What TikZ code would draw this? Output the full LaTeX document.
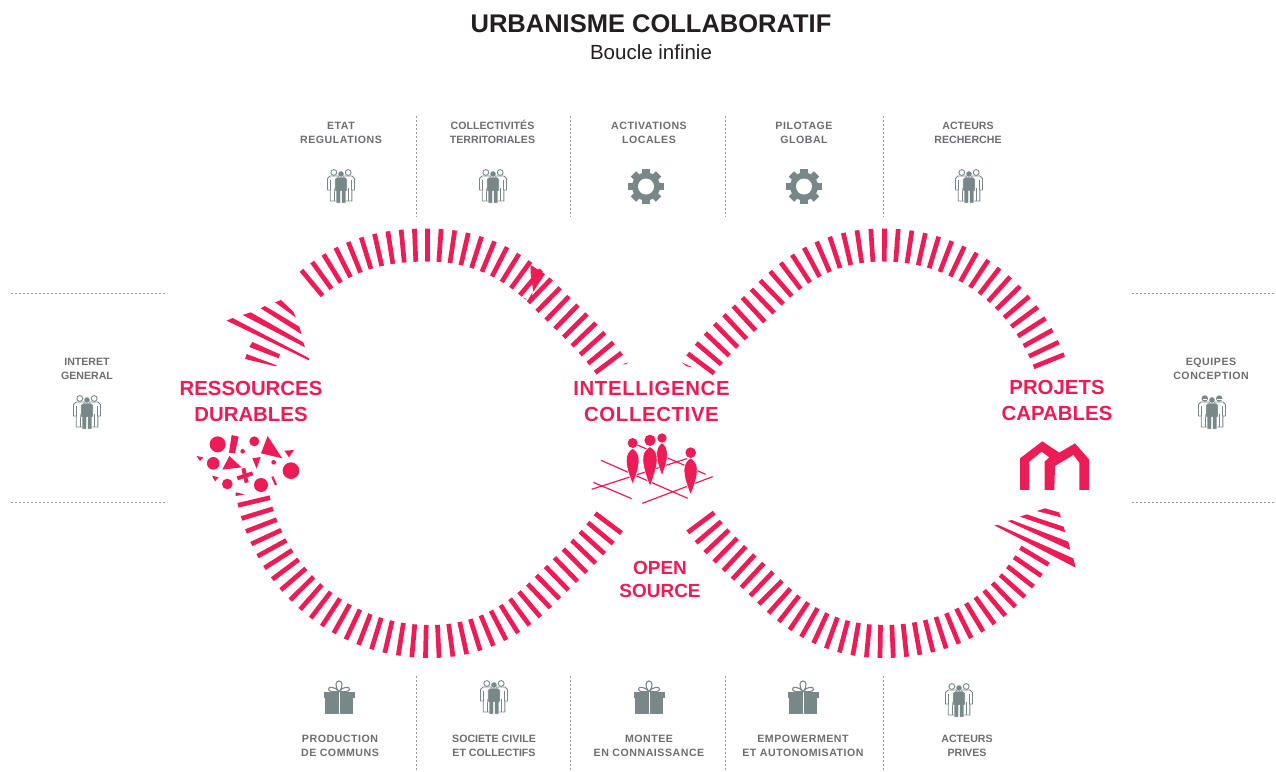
\documentclass[tikz,border=0pt]{standalone}
\usepackage{fontspec}
\setmainfont{Liberation Sans}
\usetikzlibrary{decorations.markings}
\definecolor{pinkc}{HTML}{EE1C56}
\definecolor{greyt}{HTML}{6D6E71}
\definecolor{icon}{HTML}{788888}
\definecolor{dotc}{HTML}{939C9C}
\definecolor{titlec}{HTML}{231F20}
\newcommand{\stripeband}[2]{%
  \pgfmathsetmacro{\stepfrac}{1/(#2+0.02)}%
  \path[decorate,decoration={markings,mark=between positions 0 and 1 step \stepfrac\space with {\draw[pinkc,line width=4.7pt] (0,-16.5) -- (0,16.5);}}] #1;%
}
\newcommand{\sidebodies}{%
  \foreach \s in {-1,1}{
    \draw[icon,fill=white,line width=0.9pt] (\s*13.5,4) -- (\s*13.5,-7.5) -- (\s*11,-10) -- (\s*3,-10) -- (\s*1,-7) -- (\s*1,4) -- (\s*3.5,4) -- (\s*3.5,15) -- (\s*10.8,15) -- (\s*10.8,4) -- cycle;
    \draw[icon,line width=0.7pt] (\s*7.1,2) -- (\s*7.1,15);
    \draw[icon,line width=0.7pt] (\s*10.8,-6) -- (\s*10.8,4);
  }%
}
\newcommand{\centerbody}{%
  \fill[icon,draw=white,line width=0.5pt] (-6.2,-7) -- (-4,-9) -- (4,-9) -- (6.2,-7) -- (6.2,5) -- (4.8,5) -- (4.8,17) -- (0.5,17) -- (0.5,5) -- (-0.5,5) -- (-0.5,17) -- (-4.8,17) -- (-4.8,5) -- (-6.2,5) -- cycle;
  \fill[icon] (0,-12) circle[radius=2.8];
}
\tikzset{
  small/.style={text=greyt,font=\fontsize{10.6}{14}\bfseries\selectfont,align=center,inner sep=0pt},
  smallwide/.style={text=greyt,font=\fontsize{10.6}{14}\bfseries\selectfont\addfontfeature{LetterSpace=5},align=center,inner sep=0pt},
  big/.style={text=pinkc,font=\fontsize{20.4}{26}\bfseries\selectfont,align=center,inner sep=0pt},
  bigwide/.style={text=pinkc,font=\fontsize{20.4}{26}\bfseries\selectfont\addfontfeature{LetterSpace=3},align=center,inner sep=0pt},
  oss/.style={text=pinkc,font=\fontsize{19}{23}\bfseries\selectfont,align=center,inner sep=0pt},
  dotline/.style={dotc,line width=0.7pt,dash pattern=on 2pt off 2pt},
  pk/.style={fill=pinkc,draw=none},
  gear/.pic={
    \fill[icon] (0,0) circle[radius=14];
    \foreach \a in {0,45,...,315}{\fill[icon,rotate=\a] (-3.8,-17.8) rectangle (3.8,0);}
    \fill[white] (0,0) circle[radius=8];
  },
  gift/.pic={
    \fill[icon] (-15.5,-10.7) rectangle (15.5,-5);
    \fill[icon] (-14,-5) rectangle (14,11);
    \fill[white] (-0.5,-10.7) rectangle (0.5,11);
    \draw[icon,line width=1.1pt] (0,-11.5) .. controls (-4,-16.5) and (-11,-17) .. (-10.5,-13.5) .. controls (-10,-11) and (-4,-11) .. (0,-11.5)
      .. controls (4,-16.5) and (11,-17) .. (10.5,-13.5) .. controls (10,-11) and (4,-11) .. (0,-11.5)
      .. controls (-5,-17) and (-3,-22) .. (0,-22) .. controls (3,-22) and (5,-17) .. (0,-11.5);
  },
  people/.pic={
    \sidebodies
    \draw[icon,fill=white,line width=0.9pt] (-7.2,-13.5) circle[radius=2.9];
    \draw[icon,fill=white,line width=0.9pt] (7.2,-13.5) circle[radius=2.9];
    \centerbody
  },
  peoplecap/.pic={
    \sidebodies
    \fill[icon] (-7.2,-13.5) circle[radius=3.2];
    \fill[icon] (7.2,-13.5) circle[radius=3.2];
    \fill[white] (-9.5,-13) rectangle (-5,-11.6);
    \fill[white] (5,-13) rectangle (9.5,-11.6);
    \centerbody
  },
}
\begin{document}
\begin{tikzpicture}[x=1pt,y=-1pt]
\useasboundingbox[fill=white] (0,0) rectangle (1276,771);

% title
\node[text=titlec,font=\fontsize{25.5}{30}\bfseries\selectfont,inner sep=0pt] (title) at (651,24) {URBANISME COLLABORATIF};
\node[text=titlec,font=\fontsize{20.5}{24}\selectfont,inner sep=0pt] (subtitle) at (651,52) {Boucle infinie};

% dotted separators
\foreach \x in {416.5,570.5,725.5,883.5}{
  \draw[dotline] (\x,116) -- (\x,217);
  \draw[dotline] (\x,676) -- (\x,770);
}
\foreach \y in {293.5,502.5}{
  \draw[dotline] (11,\y) -- (167,\y);
  \draw[dotline] (1132,\y) -- (1274,\y);
}

% small labels
\node[smallwide] (l1) at (341,133) {ETAT\\REGULATIONS};
\node[small] (l2) at (492.5,132) {COLLECTIVITÉS\\TERRITORIALES};
\node[smallwide] (l3) at (649,133) {ACTIVATIONS\\LOCALES};
\node[smallwide] (l4) at (804,133) {PILOTAGE\\GLOBAL};
\node[small] (l5) at (968,133) {ACTEURS\\RECHERCHE};
\node[smallwide] (l6) at (340,746) {PRODUCTION\\DE COMMUNS};
\node[small] (l7) at (494,746) {SOCIETE CIVILE\\ET COLLECTIFS};
\node[smallwide] (l8) at (649,746) {MONTEE\\EN CONNAISSANCE};
\node[smallwide] (l9) at (803,746) {EMPOWERMENT\\ET AUTONOMISATION};
\node[small] (l10) at (967,746) {ACTEURS\\PRIVES};
\node[small] (l11) at (87,369) {INTERET\\GENERAL};
\node[smallwide] (l12) at (1211,369) {EQUIPES\\CONCEPTION};

% icons
\pic at (341,186) {people};
\pic at (493,186) {people};
\pic at (646,186.5) {gear};
\pic at (804,186.5) {gear};
\pic at (969,186) {people};
\pic at (339,703) {gift};
\pic at (494,697) {people};
\pic at (649,703) {gift};
\pic at (803,703) {gift};
\pic at (959,700) {people};
\pic at (87,412) {people};
\pic at (1212,412) {peoplecap};

% striped bands
\stripeband{(312,283) .. controls (347,254) and (383,245) .. (428,245) .. controls (473,245) and (511,262) .. (543,294) .. controls (566,317) and (589,337) .. (608.5,363)}{28}
\stripeband{(254,501.5) .. controls (273.5,584) and (345,641.5) .. (430,641.5) .. controls (475,641.5) and (511,624) .. (543,592) .. controls (566,569) and (589,549) .. (608.5,523)}{37}
\stripeband{(701,363.5) .. controls (720,338) and (745,319) .. (770,294) .. controls (802,262) and (838,245) .. (883,245) .. controls (958,245) and (1021,291) .. (1049,361)}{35}
\stripeband{(701,522.5) .. controls (720,548) and (745,567) .. (770,592) .. controls (802,624) and (838,641.5) .. (883,641.5) .. controls (948,641.5) and (1001,612) .. (1034.5,556)}{33}

% blob and slivers on the top left band
\begin{scope}[shift={(500,250)},x=0.3333pt,y=-0.3333pt]
  \fill[pk] (92,45) -- (135,72) -- (100,125) -- (92,70) -- cycle;
  \fill[pk] (85,148) -- (97,128) -- (97,150) -- cycle;
  \fill[pk] (68,143) -- (80,147) -- (78,149) -- cycle;
  \fill[pk] (368,343) -- (384,337) -- (378,343) -- cycle;
  \fill[pk] (545,337) -- (577,352) -- (560,349) -- cycle;
\end{scope}

% left arrow head
\begin{scope}[shift={(220,285)},x=0.3333pt,y=-0.3333pt]
  \fill[pk] (165,52) -- (183,45) -- (220,80) -- (228,98) -- cycle;
  \fill[pk] (122,70) -- (135,63) -- (238,125) -- (245,148) -- cycle;
  \fill[pk] (68,90) -- (92,82) -- (250,172) -- (255,187) -- cycle;
  \fill[pk] (20,107) -- (38,99) -- (268,220) -- (266,226) -- cycle;
  \fill[pk] (97,171) -- (180,208) -- (176,220) -- (88,186) -- cycle;
  \fill[pk] (80,207) -- (170,241) -- (168,244) -- (75,222) -- cycle;
\end{scope}

% right arrow head
\begin{scope}[shift={(985,500)},x=0.3333pt,y=-0.3333pt]
  \fill[pk] (155,33) -- (180,25) -- (222,37) -- (228,52) -- cycle;
  \fill[pk] (105,50) -- (125,43) -- (236,80) -- (241,97) -- cycle;
  \fill[pk] (68,63) -- (80,60) -- (250,125) -- (256,150) -- cycle;
  \fill[pk] (28,76) -- (40,75) -- (265,175) -- (272,203) -- cycle;
\end{scope}

% pink labels
\node[big] (res) at (251,401) {RESSOURCES\\DURABLES};
\node[bigwide] (int) at (651.5,401) {INTELLIGENCE\\COLLECTIVE};
\node[big] (pro) at (1057,400.5) {PROJETS\\CAPABLES};
\node[oss] (ope) at (660,579.5) {OPEN\\SOURCE};

% scattered shapes
\begin{scope}[shift={(190,430)},x=0.3333pt,y=-0.3333pt]
  \foreach \cx/\cy/\r in {83/43/24,193/34/15,158/64/7,70/100/19,112/162/16,213/165/21,303/122/25,251/97/7}{
    \fill[pk] (\cx,\cy) circle[radius=\r];
  }
  \fill[pk] (125,15) -- (146,20) -- (135,70) -- (117,68) -- cycle;
  \fill[pk] (233,18) -- (277,85) -- (213,70) -- cycle;
  \fill[pk] (283,62) -- (312,60) -- (297,82) -- cycle;
  \fill[pk] (20,78) -- (40,82) -- (30,93) -- cycle;
  \fill[pk] (118,78) -- (155,112) -- (97,119) -- cycle;
  \fill[pk] (187,85) -- (212,81) -- (200,116) -- cycle;
  \fill[pk] (66,137) -- (86,142) -- (75,154) -- cycle;
  \draw[pinkc,line width=4pt] (142,145) -- (188,130);
  \draw[pinkc,line width=4pt] (160,115) -- (170,158);
  \draw[pinkc,line width=2.2pt] (247,140) -- (258,165);
  \fill[pk] (137,187) -- (165,193) -- (137,198) -- cycle;
\end{scope}

% people on the grid
\begin{scope}[shift={(560,360)},x=0.3333pt,y=-0.3333pt]
  \begin{scope}[pinkc,line width=1.2pt]
    \draw (123,301) -- (383,415);
    \draw (100,367) -- (215,416);
    \draw (95,388) -- (380,296);
    \draw (247,430) -- (458,350);
    \draw (232,255) -- (437,343);
  \end{scope}
  \foreach \cx/\hy/\hr/\ty/\by/\w in {218/249/15/265/373/27,306/234/14/248/347/23,270/241/17/260/380/30,392/278/16/294/405/28}{
    \fill[pk,draw=white,line width=0.6pt] (\cx,\ty) .. controls (\cx-\w,\ty+15) and (\cx-\w+3,\ty+50) .. (\cx,\by) .. controls (\cx+\w-3,\ty+50) and (\cx+\w,\ty+15) .. (\cx,\ty) -- cycle;
    \fill[pk] (\cx,\hy) circle[radius=\hr];
  }
\end{scope}

% house
\begin{scope}[shift={(960,340)},x=0.3333pt,y=-0.3333pt]
  \fill[pk] (180,355) -- (247,304) -- (298,338) -- (345,310) -- (387,358) -- (387,450) -- (358,450) -- (358,368) -- (340,345) -- (285,378) -- (283,450) -- (254,450) -- (254,365) -- (268,352) -- (245,335) -- (208,365) -- (208,450) -- (180,450) -- cycle;
\end{scope}
\end{tikzpicture}
\end{document}
